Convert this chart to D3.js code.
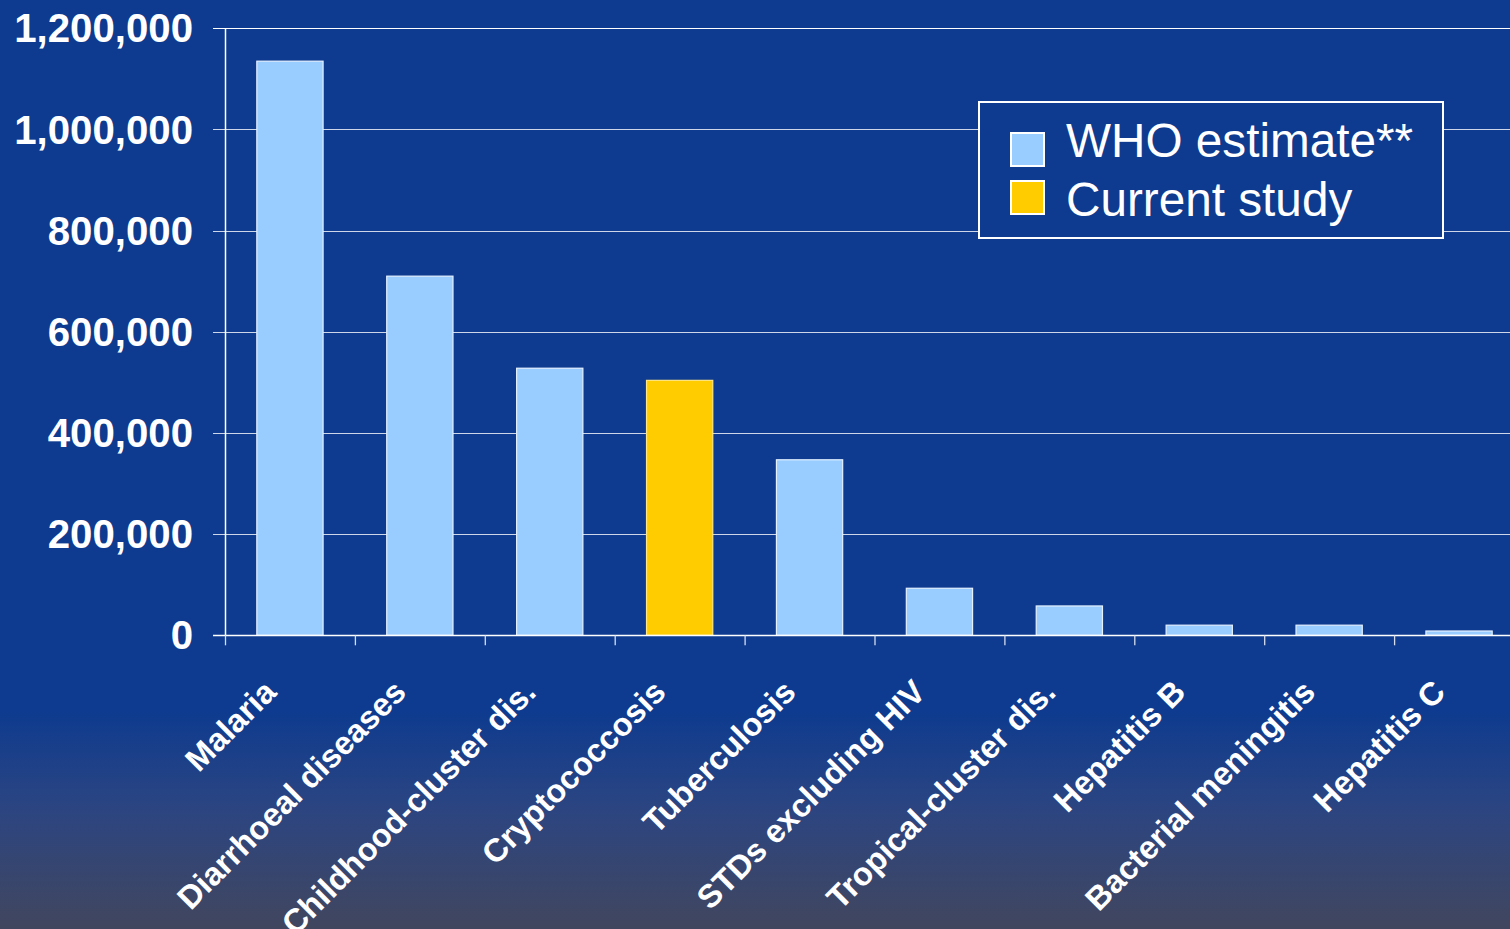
<!DOCTYPE html>
<html>
<head>
<meta charset="utf-8">
<script src="https://cdn.jsdelivr.net/npm/d3@7"></script>
<style>
  html, body { margin: 0; padding: 0; background: #0E3B8F; }
  svg { display: block; }
</style>
</head>
<body>
<script>
// Annual deaths by cause (sub-Saharan Africa)
const categories = [
  "Malaria", "Diarrhoeal diseases", "Childhood-cluster dis.", "Cryptococcosis",
  "Tuberculosis", "STDs excluding HIV", "Tropical-cluster dis.", "Hepatitis B",
  "Bacterial meningitis", "Hepatitis C"
];
const deaths = [1135000, 710000, 528000, 504000, 347000, 93000, 58000, 20000, 20000, 8500];
const source = ["WHO", "WHO", "WHO", "Study", "WHO", "WHO", "WHO", "WHO", "WHO", "WHO"];
const legendLabels = ["WHO estimate**", "Current study"];
const legendKeys = ["WHO", "Study"];
const yTicks = [0, 200000, 400000, 600000, 800000, 1000000, 1200000];

const W = 1510, H = 929;
const bg = "#0E3B8F";
const colors = { WHO: "#99CCFF", Study: "#FFCC00" };

const svg = d3.select("body").append("svg").attr("width", W).attr("height", H);

// background with lower fade to slate grey
const defs = svg.append("defs");
const grad = defs.append("linearGradient").attr("id", "bgfade")
  .attr("gradientUnits", "userSpaceOnUse")
  .attr("x1", 0).attr("y1", 712).attr("x2", 0).attr("y2", H);
grad.append("stop").attr("offset", "0%").attr("stop-color", bg);
grad.append("stop").attr("offset", "45%").attr("stop-color", "#2C4581");
grad.append("stop").attr("offset", "100%").attr("stop-color", "#41465E");
svg.append("rect").attr("width", W).attr("height", H).attr("fill", bg);
svg.append("rect").attr("y", 712).attr("width", W).attr("height", H - 712).attr("fill", "url(#bgfade)");

const plotLeft = 225, plotTop = 28.3, plotBottom = 635.3;
const step = 129.9;
const plotRight = plotLeft + step * categories.length;

const y = d3.scaleLinear().domain([0, 1200000]).range([plotBottom, plotTop]);
const x = d3.scaleBand().domain(categories).range([plotLeft, plotRight])
  .paddingInner(0.49).paddingOuter(0.245);
const xCell = d3.scaleBand().domain(categories).range([plotLeft, plotRight]).padding(0);

// horizontal gridlines
svg.append("g").selectAll("line").data(yTicks.filter(d => d > 0)).join("line")
  .attr("x1", 213).attr("x2", W)
  .attr("y1", d => Math.round(y(d)) + 0.5).attr("y2", d => Math.round(y(d)) + 0.5)
  .attr("stroke", "#FFFFFF")
  .attr("stroke-opacity", d => d === 1200000 ? 1 : 0.8)
  .attr("stroke-width", 1);

// y tick labels
svg.append("g").selectAll("text").data(yTicks).join("text")
  .attr("x", 193).attr("y", d => y(d)).attr("dy", "0.35em")
  .attr("text-anchor", "end")
  .attr("font-family", "'Liberation Sans', Arial, sans-serif")
  .attr("font-weight", "bold").attr("font-size", 40.2)
  .attr("fill", "#FFFFFF")
  .text(d => d3.format(",")(d));

// bars
svg.append("g").selectAll("rect").data(categories).join("rect")
  .attr("x", d => x(d))
  .attr("y", (d, i) => y(deaths[i]))
  .attr("width", x.bandwidth())
  .attr("height", (d, i) => plotBottom - y(deaths[i]))
  .attr("fill", (d, i) => colors[source[i]])
  .attr("stroke", (d, i) => source[i] === "WHO" ? "#E4F1FF" : "#FFE680")
  .attr("stroke-width", 1.2);

// y axis line
svg.append("line")
  .attr("x1", plotLeft + 0.5).attr("x2", plotLeft + 0.5)
  .attr("y1", plotTop).attr("y2", plotBottom)
  .attr("stroke", "#FFFFFF").attr("stroke-width", 1.5);

// x axis line and category boundary ticks
svg.append("line")
  .attr("x1", 213).attr("x2", W)
  .attr("y1", Math.round(plotBottom) + 0.5).attr("y2", Math.round(plotBottom) + 0.5)
  .attr("stroke", "#FFFFFF").attr("stroke-width", 1.5);
svg.append("g").selectAll("line").data(categories).join("line")
  .attr("x1", d => xCell(d) + 0.5).attr("x2", d => xCell(d) + 0.5)
  .attr("y1", plotBottom).attr("y2", plotBottom + 10)
  .attr("stroke", "#D6DEEE").attr("stroke-width", 1.3);

// rotated category labels
svg.append("g").selectAll("text").data(categories).join("text")
  .attr("transform", d => `translate(${xCell(d) + xCell.bandwidth() / 2 - 12},694) rotate(-45)`)
  .attr("text-anchor", "end")
  .attr("font-family", "'Liberation Sans', Arial, sans-serif")
  .attr("font-weight", "bold").attr("font-size", 32.5)
  .attr("fill", "#FFFFFF")
  .text(d => d);

// legend
const lg = svg.append("g");
lg.append("rect")
  .attr("x", 979).attr("y", 102).attr("width", 464).attr("height", 136)
  .attr("fill", bg).attr("stroke", "#FFFFFF").attr("stroke-width", 2);
legendKeys.forEach((k, i) => {
  lg.append("rect")
    .attr("x", 1011).attr("y", 133 + i * 48).attr("width", 33).attr("height", 33)
    .attr("fill", colors[k]).attr("stroke", "#FFFFFF").attr("stroke-width", 2);
  lg.append("text")
    .attr("x", 1066).attr("y", 157 + i * 59)
    .attr("font-family", "'Liberation Sans', Arial, sans-serif")
    .attr("font-size", 47.7).attr("fill", "#FFFFFF")
    .text(legendLabels[i]);
});
</script>
</body>
</html>
